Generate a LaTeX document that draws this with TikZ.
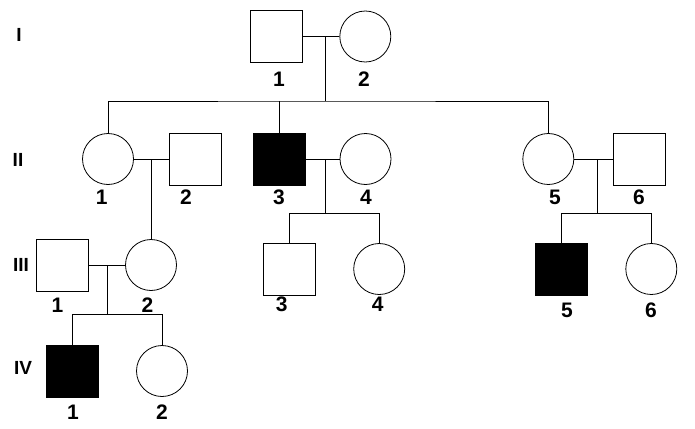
\documentclass[tikz,border=0pt]{standalone}
\usepackage{fontspec}
\setmainfont{Liberation Sans}
\usetikzlibrary{positioning}
\begin{document}
\begin{tikzpicture}[x=1pt,y=-1pt,line width=0.8pt,
   male/.style={draw,rectangle,minimum size=52pt,inner sep=0pt},
   female/.style={draw,circle,minimum size=51pt,inner sep=0pt},
   sick/.style={fill=black},
   num/.style={font=\fontsize{21}{21}\bfseries\selectfont,inner sep=0pt},
   gen/.style={font=\fontsize{19}{19}\bfseries\selectfont,inner sep=0pt}]
   \useasboundingbox (0,0) rectangle (695,428);
   % generations
   \node[gen] (g1) at (19,35) {I};
   \node[gen] (g2) at (18,160) {II};
   \node[gen] (g3) at (21,265) {III};
   \node[gen] (g4) at (23,368) {IV};
   % persons
   \node[male]   (I1)  at (276.5,36.5) {};
   \node[female] (I2)  at (365.3,36.5) {};
   \node[female] (II1) at (108,159) {};
   \node[male]   (II2) at (195.5,159) {};
   \node[male,sick] (II3) at (279,159) {};
   \node[female] (II4) at (365.5,159) {};
   \node[female] (II5) at (548.3,159) {};
   \node[male]   (II6) at (639.5,159) {};
   \node[male]   (III1) at (62,265) {};
   \node[female] (III2) at (151,265) {};
   \node[male]   (III3) at (289,269) {};
   \node[female] (III4) at (379.2,269) {};
   \node[male,sick] (III5) at (561.5,269) {};
   \node[female] (III6) at (651.3,269) {};
   \node[male,sick] (IV1) at (72.8,371) {};
   \node[female] (IV2) at (162,371) {};
   % numbers
   \node[num] (nI1) at (279,79) {1};
   \node[num] (nI2) at (364,79) {2};
   \node[num] (nII1) at (101.7,197.5) {1};
   \node[num] (nII2) at (186,197.5) {2};
   \node[num] (nII3) at (279,197.5) {3};
   \node[num] (nII4) at (366,197.5) {4};
   \node[num] (nII5) at (555,197) {5};
   \node[num] (nII6) at (639,197) {6};
   \node[num] (nIII1) at (57.5,305) {1};
   \node[num] (nIII2) at (147.5,305) {2};
   \node[num] (nIII3) at (281.7,304) {3};
   \node[num] (nIII4) at (377.7,304) {4};
   \node[num] (nIII5) at (567,310) {5};
   \node[num] (nIII6) at (651,310) {6};
   \node[num] (nIV1) at (73,412) {1};
   \node[num] (nIV2) at (162,412) {2};
   % marriages
   \draw (I1) -- (I2);
   \draw (II1) -- (II2);
   \draw (II3) -- (II4);
   \draw (II5) -- (II6);
   \draw (III1) -- (III2);
   % descent
   \coordinate (m1) at (325,36.5);
   \coordinate (s1) at (325,101);
   \draw (m1) -- (s1);
   \draw (II1.north) |- (s1) -| (II5.north);
   \draw (II3.north) -- (II3.north |- s1);
   \coordinate (m2) at (151,159);
   \draw (m2) -- (III2.north);
   \coordinate (m3) at (325,159);
   \coordinate (s3) at (325,213.3);
   \draw (m3) -- (s3);
   \draw (III3.north) |- (s3) -| (III4.north);
   \coordinate (m4) at (597.3,159);
   \coordinate (s4) at (597.3,213.3);
   \draw (m4) -- (s4);
   \draw (III5.north) |- (s4) -| (III6.north);
   \coordinate (m5) at (107.7,265);
   \coordinate (s5) at (107.7,314.3);
   \draw (m5) -- (s5);
   \draw (IV1.north) |- (s5) -| (IV2.north);
\end{tikzpicture}
\end{document}
